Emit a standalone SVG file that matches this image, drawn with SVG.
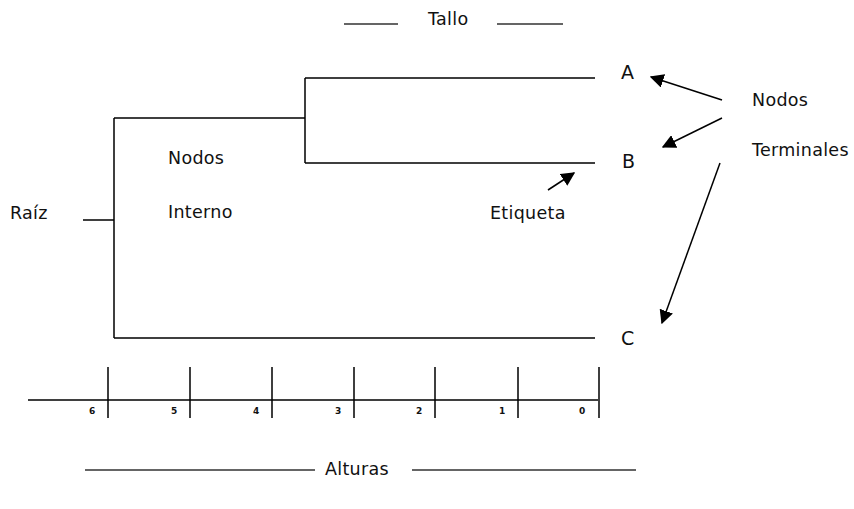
<svg xmlns="http://www.w3.org/2000/svg" width="854" height="509" viewBox="0 0 854 509">
<style>
.l{stroke:#000;stroke-width:1.5;fill:none}
.g{stroke:#333;stroke-width:1.5}
.t{font-family:"DejaVu Sans",sans-serif;font-size:17.5px;fill:#111;letter-spacing:0.3px}
.b{font-size:19px}
.n{font-family:"DejaVu Sans",sans-serif;font-size:9px;font-weight:bold;fill:#111}
</style>
<defs>
<marker id="ah2" viewBox="0 0 10 10" refX="9" refY="5" markerWidth="14" markerHeight="14" markerUnits="userSpaceOnUse" orient="auto"><path d="M0,0 L10,5 L0,10 z" fill="#000"/></marker>
</defs>
<g id="connectors">
<path class="l" d="M83,220 H114 M114,118 V338 M114,118 H305 M305,78 V163 M305,78 H595 M305,163 H595 M114,338 H595"/>
<path class="l" d="M28,400 H598 M108,367 V418 M190,367 V418 M272,367 V418 M354,367 V418 M435,367 V418 M518,367 V418 M599,367 V418"/>
<path class="g" d="M344,24 H398 M497,24 H563 M85,470 H315 M412,470 H636"/>
<line class="l" x1="722" y1="100" x2="651" y2="77" marker-end="url(#ah2)"/>
<line class="l" x1="722" y1="118" x2="663" y2="147" marker-end="url(#ah2)"/>
<line class="l" x1="720" y1="163" x2="662" y2="323" marker-end="url(#ah2)"/>
<line class="l" x1="548" y1="190" x2="574" y2="173" marker-end="url(#ah2)"/>
</g>
<g id="node-A"><text class="t b" x="621" y="79">A</text></g>
<g id="node-B"><text class="t b" x="622" y="168">B</text></g>
<g id="node-C"><text class="t b" x="621" y="345">C</text></g>
<g id="label-tallo"><text class="t" x="428" y="25" letter-spacing="1.5">Tallo</text></g>
<g id="label-terminales"><text class="t" x="752" y="106">Nodos</text><text class="t" x="752" y="156">Terminales</text></g>
<g id="label-interno"><text class="t" x="168" y="164">Nodos</text><text class="t" x="168" y="218">Interno</text></g>
<g id="label-raiz"><text class="t" x="10" y="219">Raíz</text></g>
<g id="label-etiqueta"><text class="t" x="490" y="219">Etiqueta</text></g>
<g id="label-alturas"><text class="t" x="325" y="475">Alturas</text></g>
<g id="axis-labels">
<text class="n" x="89" y="414">6</text>
<text class="n" x="171" y="414">5</text>
<text class="n" x="253" y="414">4</text>
<text class="n" x="335" y="414">3</text>
<text class="n" x="416" y="414">2</text>
<text class="n" x="499" y="414">1</text>
<text class="n" x="579" y="414">0</text>
</g>
</svg>
